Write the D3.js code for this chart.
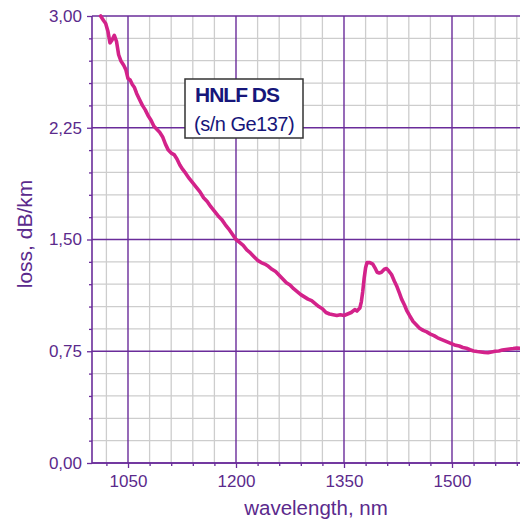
<!DOCTYPE html>
<html>
<head>
<meta charset="utf-8">
<script src="https://cdn.jsdelivr.net/npm/d3@7"></script>
<style>
  html, body { margin: 0; padding: 0; background: #fff; overflow: hidden; }
  svg { display: block; font-family: "Liberation Sans", Arial, sans-serif; }
</style>
</head>
<body>
<script>
// ---- data ----
const wavelengths = [1012,1016,1019,1022,1025,1028,1031,1034,1037,1040,1044,1047,1050,1053,1056,1059,1062,1066,1070,1074,1078,1082,1086,1090,1094,1098,1102,1106,1110,1114,1118,1122,1126,1130,1135,1140,1145,1150,1155,1160,1165,1170,1175,1180,1185,1190,1195,1200,1205,1210,1215,1220,1225,1230,1235,1240,1245,1250,1255,1260,1265,1270,1275,1280,1285,1290,1295,1300,1305,1310,1315,1320,1325,1330,1335,1340,1345,1350,1355,1360,1365,1368,1372,1374,1376,1378,1380,1382,1386,1390,1393,1396,1399,1402,1406,1409,1412,1416,1420,1423,1427,1430,1434,1437,1441,1446,1450,1455,1460,1465,1470,1475,1480,1485,1490,1495,1500,1505,1510,1515,1520,1525,1530,1535,1540,1545,1550,1555,1560,1565,1570,1575,1580,1585,1590,1595,1600];
const loss = [3.00,2.97,2.95,2.90,2.82,2.84,2.87,2.83,2.74,2.70,2.67,2.64,2.58,2.57,2.54,2.52,2.48,2.44,2.40,2.37,2.33,2.30,2.26,2.24,2.22,2.19,2.14,2.10,2.08,2.07,2.04,2.00,1.97,1.945,1.91,1.88,1.85,1.82,1.78,1.755,1.72,1.69,1.66,1.635,1.60,1.57,1.535,1.50,1.48,1.46,1.43,1.41,1.385,1.36,1.345,1.335,1.32,1.30,1.285,1.26,1.235,1.21,1.195,1.17,1.15,1.13,1.115,1.10,1.09,1.07,1.05,1.035,1.01,1.00,0.995,0.99,0.995,0.99,1.00,1.01,1.03,1.02,1.04,1.08,1.15,1.24,1.31,1.345,1.345,1.335,1.31,1.28,1.275,1.28,1.30,1.305,1.29,1.265,1.22,1.19,1.14,1.10,1.06,1.025,0.99,0.95,0.93,0.905,0.89,0.88,0.865,0.855,0.84,0.83,0.82,0.81,0.80,0.79,0.785,0.775,0.77,0.76,0.752,0.748,0.745,0.742,0.74,0.745,0.75,0.752,0.758,0.762,0.765,0.768,0.772,0.77,0.775];
const xMajorTicks = [1050, 1200, 1350, 1500];
const xMinorTicks = [1020,1080,1110,1140,1170,1230,1260,1290,1320,1380,1410,1440,1470,1530,1560,1590];
const yMajorTicks = [0, 0.75, 1.5, 2.25, 3.0];
const yMinorTicks = [0.15,0.3,0.45,0.6,0.9,1.05,1.2,1.35,1.65,1.8,1.95,2.1,2.4,2.55,2.7,2.85];
const legendLines = ["HNLF DS", "(s/n Ge137)"];
const xTitle = "wavelength, nm";
const yTitle = "loss, dB/km";

// ---- layout ----
const W = 520, H = 522;
const L = 92, T = 16, B = 463, R = 524;
const purple = "#6a2c9a", textPurple = "#5b2a8c", minorGray = "#cdcdcd", curveColor = "#d3228a";

const svg = d3.select("body").append("svg").attr("width", W).attr("height", H);

const x = d3.scaleLinear().domain([1000, 1600]).range([L, R]);
const y = d3.scaleLinear().domain([0, 3]).range([B, T]);

svg.append("defs").append("clipPath").attr("id", "clip")
  .append("rect").attr("x", L).attr("y", T - 3).attr("width", R - L).attr("height", B - T + 3);

const grid = svg.append("g");
// minor grid
grid.selectAll(".vminor").data(xMinorTicks).join("line")
  .attr("x1", d => x(d)).attr("x2", d => x(d)).attr("y1", T).attr("y2", B)
  .attr("stroke", minorGray).attr("stroke-width", 1.3);
grid.selectAll(".hminor").data(yMinorTicks).join("line")
  .attr("x1", L).attr("x2", R).attr("y1", d => y(d)).attr("y2", d => y(d))
  .attr("stroke", minorGray).attr("stroke-width", 1.3);
// major grid
grid.selectAll(".vmajor").data(xMajorTicks).join("line")
  .attr("x1", d => x(d)).attr("x2", d => x(d)).attr("y1", T).attr("y2", B)
  .attr("stroke", purple).attr("stroke-width", 1.4);
grid.selectAll(".hmajor").data(yMajorTicks).join("line")
  .attr("x1", L).attr("x2", R).attr("y1", d => y(d)).attr("y2", d => y(d))
  .attr("stroke", purple).attr("stroke-width", 1.4);

// axes
const fmtY = d => d3.format(".2f")(d).replace(".", ",");
const yAxis = svg.append("g").attr("transform", `translate(${L},0)`)
  .call(d3.axisLeft(y).tickValues(yMajorTicks).tickFormat(fmtY).tickSize(5).tickPadding(5));
const yMinorAxis = svg.append("g").attr("transform", `translate(${L},0)`)
  .call(d3.axisLeft(y).tickValues(yMinorTicks).tickFormat("").tickSize(3));
const xAxis = svg.append("g").attr("transform", `translate(0,${B})`)
  .call(d3.axisBottom(x).tickValues(xMajorTicks).tickFormat(d3.format("d")).tickSize(5).tickPadding(7));
const xMinorAxis = svg.append("g").attr("transform", `translate(0,${B})`)
  .call(d3.axisBottom(x).tickValues(xMinorTicks).tickFormat("").tickSize(3));

[yAxis, yMinorAxis, xAxis, xMinorAxis].forEach(g => {
  g.select(".domain").attr("stroke", purple).attr("stroke-width", 1.6);
  g.selectAll(".tick line").attr("stroke", purple).attr("stroke-width", 1.3);
  g.selectAll(".tick text").attr("fill", textPurple).style("font-size", "17px")
    .style("font-family", "'Liberation Sans', Arial, sans-serif");
});
yAxis.select(".domain").attr("d", `M0,${B}V${T}`);
xAxis.select(".domain").attr("d", `M${L},0H${R}`);
yMinorAxis.select(".domain").remove();
xMinorAxis.select(".domain").remove();

// curve
const pts = wavelengths.map((w, i) => [w, loss[i]]);
svg.append("path").datum(pts)
  .attr("clip-path", "url(#clip)")
  .attr("fill", "none").attr("stroke", curveColor).attr("stroke-width", 3.6)
  .attr("stroke-linejoin", "round").attr("stroke-linecap", "round")
  .attr("d", d3.line().x(d => x(d[0])).y(d => y(d[1])).curve(d3.curveLinear));

// legend
const lg = svg.append("g");
lg.append("rect").attr("x", 185).attr("y", 79).attr("width", 118).attr("height", 59)
  .attr("fill", "#fff").attr("stroke", "#333").attr("stroke-width", 1.5);
lg.append("text").attr("x", 195).attr("y", 102).text(legendLines[0])
  .attr("fill", "#16167a").style("font-size", "21px").style("font-weight", "bold")
  .style("letter-spacing", "-1px");
lg.append("text").attr("x", 194).attr("y", 131).text(legendLines[1])
  .attr("fill", "#16167a").style("font-size", "20px").style("letter-spacing", "-0.5px");

// titles
svg.append("text").attr("x", 316).attr("y", 515).attr("text-anchor", "middle")
  .attr("fill", textPurple).style("font-size", "20.5px").text(xTitle);
svg.append("text").attr("transform", "translate(32,234) rotate(-90)").attr("text-anchor", "middle")
  .attr("fill", textPurple).style("font-size", "21px").text(yTitle);
</script>
</body>
</html>
